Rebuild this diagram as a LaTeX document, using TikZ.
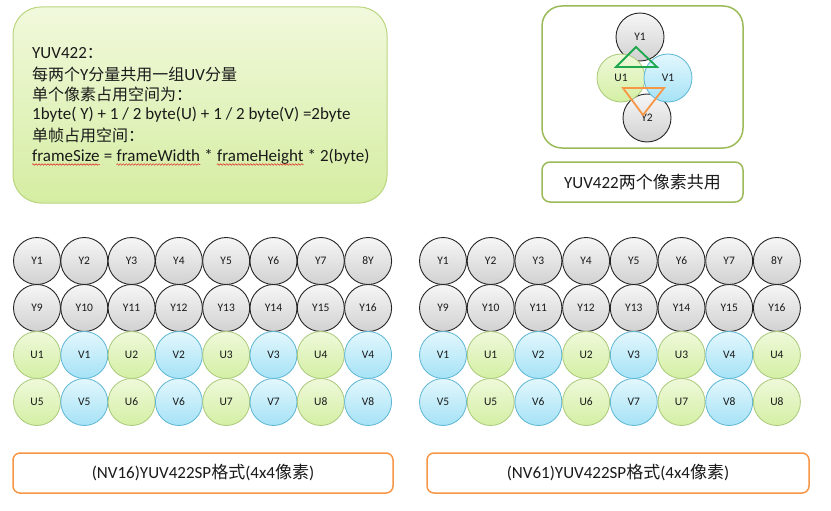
\documentclass[tikz,border=0pt]{standalone}
\usepackage{fontspec}
\setmainfont{Carlito}
\newfontfamily\cjk{Noto Sans CJK SC}
\newcommand\zh[1]{{\cjk #1}}
\newcommand\zhn[1]{{\cjk\fontsize{16}{18}\selectfont #1}}
\usetikzlibrary{decorations.pathmorphing}
\definecolor{txt}{HTML}{1A1A1A}
\definecolor{gbord}{HTML}{A9C97A}
\definecolor{gtop}{HTML}{EFF9DA}
\definecolor{gbot}{HTML}{D4EFA4}
\definecolor{bbord}{HTML}{5DB6D3}
\definecolor{btop}{HTML}{E3F7FD}
\definecolor{bbot}{HTML}{A5E2F6}
\definecolor{boxgreen}{HTML}{9BBB59}
\definecolor{boxorange}{HTML}{F79646}
\definecolor{noteb}{HTML}{B9D57E}
\definecolor{notetop}{HTML}{F1F9DC}
\definecolor{notebot}{HTML}{D5EDA2}
\definecolor{trigreen}{HTML}{1DA84E}
\definecolor{squig}{HTML}{E02020}
\tikzset{
  base/.style={circle, inner sep=0pt, minimum size=47pt, text=txt, font=\fontsize{11.5}{13}\selectfont},
  ycirc/.style={base, draw=black!85, line width=0.9pt, top color=gray!7, bottom color=gray!36},
  ucirc/.style={base, draw=gbord, line width=0.8pt, top color=gtop, bottom color=gbot},
  vcirc/.style={base, draw=bbord, line width=0.8pt, top color=btop, bottom color=bbot},
  notebox/.style={draw=noteb, line width=1pt, rounded corners=28pt, top color=notetop, bottom color=notebot},
  greenbox/.style={draw=boxgreen, line width=1.5pt, fill=white},
  orangebox/.style={draw=boxorange, line width=1.5pt, fill=white, rounded corners=7pt},
  noteline/.style={anchor=west, inner sep=0pt, text=txt, font=\fontsize{17}{19}\selectfont},
  word/.style={anchor=base west, inner sep=0pt, text=txt, font=\fontsize{17}{19}\selectfont},
  caption/.style={text=txt, font=\fontsize{17}{19}\selectfont},
  squiggle/.style={draw=squig, line width=0.5pt, decorate, decoration={snake, amplitude=0.8pt, segment length=3pt}}
}
\begin{document}
\begin{tikzpicture}[x=1pt, y=-1pt]
\useasboundingbox (0,0) rectangle (831,511);

% note box
\path[notebox] (13,7) rectangle (387,203);
\node[noteline] (n1) at (32,53) {YUV422\zhn{：}};
\node[noteline] (n2) at (32,74) {\zhn{每两个}Y\zhn{分量共用一组}UV\zhn{分量}};
\node[noteline] (n3) at (32,94) {\zhn{单个像素占用空间为：}};
\node[noteline] (n4) at (32,115) {1byte( Y) + 1 / 2 byte(U) + 1 / 2 byte(V) =2byte};
\node[noteline] (n5) at (32,135) {\zhn{单帧占用空间：}};
\node[word] (w1) at (32,161) {frameSize};
\node[word] (w2) at (w1.base east) {\mbox{}\ =\ \mbox{}};
\node[word] (w3) at (w2.base east) {frameWidth};
\node[word] (w4) at (w3.base east) {\mbox{}\ *\ \mbox{}};
\node[word] (w5) at (w4.base east) {frameHeight};
\node[word] (w6) at (w5.base east) {\mbox{}\ * 2(byte)};
\path[squiggle] ([yshift=-3.5pt]w1.base west) -- ([yshift=-3.5pt]w1.base east);
\path[squiggle] ([yshift=-3.5pt]w3.base west) -- ([yshift=-3.5pt]w3.base east);
\path[squiggle] ([yshift=-3.5pt]w5.base west) -- ([yshift=-3.5pt]w5.base east);

% pixel sharing box
\path[greenbox, rounded corners=20pt] (542,6) rectangle (743,148);
\node[ycirc, minimum size=48pt] (pY1) at (640,37) {Y1};
\node[ycirc, minimum size=48pt] (pY2) at (647,118) {Y2};
\node[ucirc, minimum size=48pt] (pU1) at (621,78) {U1};
\node[vcirc, minimum size=48pt] (pV1) at (668,78) {V1};
\draw[trigreen, line width=1.8pt, line join=miter] (636,47) -- (616,67) -- (657,67) -- cycle;
\draw[boxorange, line width=1.8pt, line join=miter] (623,88) -- (664,88) -- (643,115) -- cycle;

\path[greenbox, rounded corners=8pt] (542,162) rectangle (743,202);
\node[caption] (cap1) at (642.5,182) {YUV422\zh{两个像素共用}};

% left grid (NV16)
\foreach \lab [count=\i] in {Y1,Y2,Y3,Y4,Y5,Y6,Y7,8Y}
  \node[ycirc] (La\i) at ({37+(\i-1)*47.3},261) {\lab};
\foreach \i in {1,...,8}{
  \pgfmathtruncatemacro\n{\i+8}
  \node[ycirc] (Lb\i) at ({37+(\i-1)*47.3},308) {Y\n};
}
\foreach \i in {1,...,4}{
  \pgfmathtruncatemacro\a{2*\i-1}
  \pgfmathtruncatemacro\b{2*\i}
  \pgfmathtruncatemacro\m{\i+4}
  \node[ucirc] (Lc\a) at ({37+(\a-1)*47.3},355) {U\i};
  \node[vcirc] (Lc\b) at ({37+(\b-1)*47.3},355) {V\i};
  \node[ucirc] (Ld\a) at ({37+(\a-1)*47.3},402) {U\m};
  \node[vcirc] (Ld\b) at ({37+(\b-1)*47.3},402) {V\m};
}

% right grid (NV61)
\foreach \lab [count=\i] in {Y1,Y2,Y3,Y4,Y5,Y6,Y7,8Y}
  \node[ycirc] (Ra\i) at ({443+(\i-1)*47.7},261) {\lab};
\foreach \i in {1,...,8}{
  \pgfmathtruncatemacro\n{\i+8}
  \node[ycirc] (Rb\i) at ({443+(\i-1)*47.7},308) {Y\n};
}
\foreach \i in {1,...,4}{
  \pgfmathtruncatemacro\a{2*\i-1}
  \pgfmathtruncatemacro\b{2*\i}
  \pgfmathtruncatemacro\m{\i+4}
  \node[vcirc] (Rc\a) at ({443+(\a-1)*47.7},355) {V\i};
  \node[ucirc] (Rc\b) at ({443+(\b-1)*47.7},355) {U\i};
  \node[vcirc] (Rd\a) at ({443+(\a-1)*47.7},402) {V\m};
  \node[ucirc] (Rd\b) at ({443+(\b-1)*47.7},402) {U\m};
}

% captions
\path[orangebox] (13,453) rectangle (393,493);
\node[caption] (capL) at (203,473) {(NV16)YUV422SP\zh{格式}(4x4\zh{像素})};
\path[orangebox] (427,453) rectangle (809,493);
\node[caption] (capR) at (618,473) {(NV61)YUV422SP\zh{格式}(4x4\zh{像素})};
\end{tikzpicture}
\end{document}
